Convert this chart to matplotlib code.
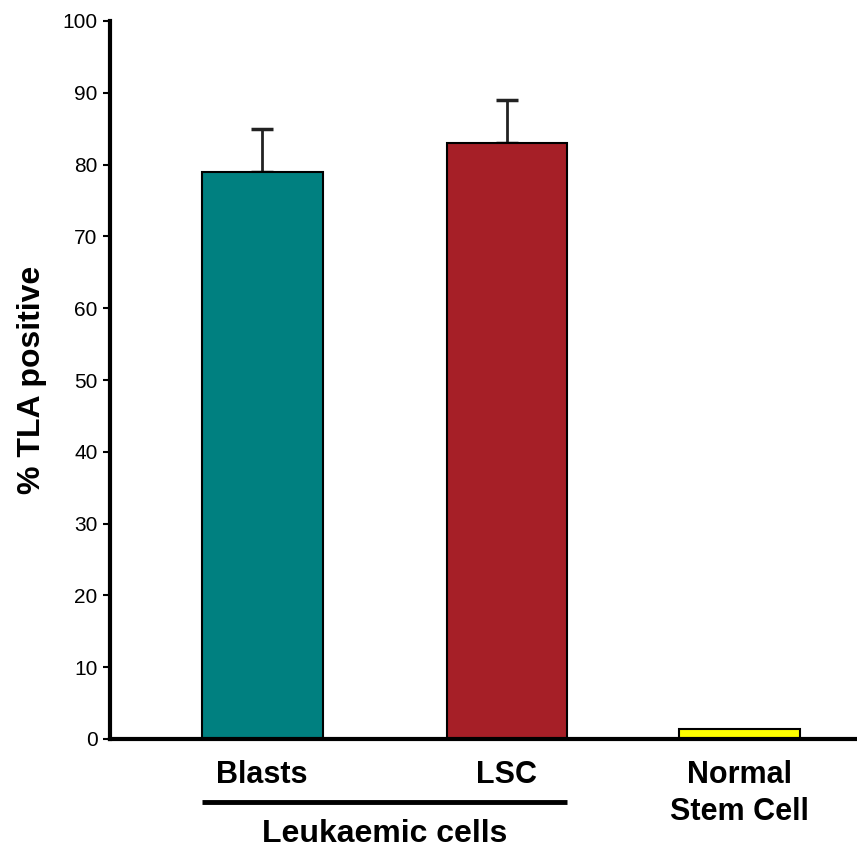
import matplotlib
matplotlib.use("Agg")
import matplotlib.pyplot as plt
from matplotlib import transforms

categories = ["Blasts", "LSC", "Normal\nStem Cell"]
values = [79, 83, 1.4]
errors = [6, 6, 0]
colors = ["#008080", "#A61F27", "#FFFF00"]
positions = [0, 1, 1.95]
group_label = "Leukaemic cells"
ylabel = "% TLA positive"
yticks = list(range(0, 101, 10))

plt.rcParams['font.family'] = ['Liberation Sans', 'DejaVu Sans']

fig = plt.figure(figsize=(8.57, 8.49), dpi=100)
ax = fig.add_axes([110/857, 110/849, 1 - 110/857, 718/849])

width = 0.494
ax.bar(positions, values, width=width, color=colors, edgecolor="black", linewidth=1.5, zorder=2)
for p, v, e in zip(positions, values, errors):
    if e > 0:
        ax.errorbar([p], [v], yerr=[[0], [e]], fmt="none", ecolor="#222222",
                    elinewidth=2, capsize=8, capthick=2.5, zorder=1)

ax.set_ylim(0, 100)
ax.set_xlim(-0.622, 2.43)
ax.set_yticks(yticks)
ax.tick_params(axis='y', labelsize=15, length=5, width=1.5, pad=4, direction='out')
ax.set_xticks(positions)
ax.set_xticklabels(categories, fontsize=22, fontweight='bold', va='top', linespacing=1.3)
ax.tick_params(axis='x', length=0, pad=15)

for s in ["top", "right"]:
    ax.spines[s].set_visible(False)
ax.spines["left"].set_linewidth(3)
ax.spines["bottom"].set_linewidth(3)

ax.set_ylabel(ylabel, fontsize=23, fontweight='bold', labelpad=11)

trans = transforms.blended_transform_factory(ax.transData, ax.transAxes)
y_line = -(802 - 739) / 718
ax.plot([positions[0] - width/2, positions[1] + width/2], [y_line, y_line],
        transform=trans, color="black", linewidth=3.5, clip_on=False, solid_capstyle='butt')
ax.text((positions[0] + positions[1]) / 2, -(834 - 739) / 718, group_label,
        transform=trans, ha='center', va='center', fontsize=23, fontweight='bold')

fig.savefig("out.png", dpi=100)
